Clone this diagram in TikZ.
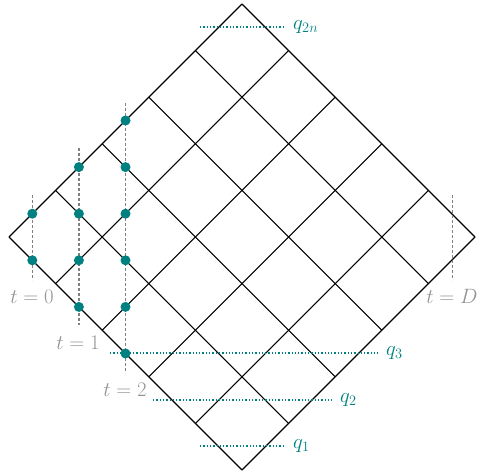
\documentclass[tikz,border=0pt]{standalone}
\begin{document}
\begin{tikzpicture}[x=1pt,y=-1pt,
  gridline/.style={line width=1.1pt, black},
  tline/.style={black!50, line width=1.2pt, dash pattern=on 3pt off 2pt},
  qline/.style={teal, line width=1.3pt, dotted},
  tdot/.style={circle, fill=teal, inner sep=0pt, minimum size=10pt},
  tlab/.style={text=black!42, inner sep=0pt, font=\fontsize{22}{26}\selectfont},
  qlab/.style={text=teal, anchor=west, inner sep=0pt, font=\fontsize{22}{26}\selectfont}]
\useasboundingbox (0,0) rectangle (481,474);
% grid
\foreach \i in {0,...,5} {
  \draw[gridline] ({9+\i*46.6},{237+\i*46.6}) -- ++(233,-233);
  \draw[gridline] ({9+\i*46.6},{237-\i*46.6}) -- ++(233,233);
}
% dashed time lines
\coordinate (a0) at (32.3,195); \coordinate (b0) at (32.3,280);
\coordinate (a1) at (78.9,148); \coordinate (b1) at (78.9,325);
\coordinate (a2) at (125.5,103); \coordinate (b2) at (125.5,373);
\coordinate (aD) at (452.7,195); \coordinate (bD) at (452.7,280);
\draw[tline] (a0) -- (b0);
\draw[tline] (a1) -- (b1);
\draw[tline] (a2) -- (b2);
\draw[tline] (aD) -- (bD);
% dotted q lines
\coordinate (qa4) at (200,27);  \coordinate (qb4) at (285,27);
\coordinate (qa3) at (110,353) ; \coordinate (qb3) at (378,353);
\coordinate (qa2) at (153,400); \coordinate (qb2) at (332,400);
\coordinate (qa1) at (200,446); \coordinate (qb1) at (285,446);
\draw[qline] (qa4) -- (qb4);
\draw[qline] (qa3) -- (qb3);
\draw[qline] (qa2) -- (qb2);
\draw[qline] (qa1) -- (qb1);
\node[qlab] (q2n) at (293,27) {$q_{2n}$};
\node[qlab] (q3) at (386,353) {$q_3$};
\node[qlab] (q2) at (340,400) {$q_2$};
\node[qlab] (q1) at (293,446) {$q_1$};
% dots
\foreach \k in {0,1,2} {
  \pgfmathtruncatemacro{\n}{2*\k+1}
  \foreach \m in {0,...,\n} {
    \node[tdot] (d-\k-\m) at ({9+(\k+0.5)*46.6},{237-(\k+0.5)*46.6+\m*46.6}) {};
  }
}
% time labels
\node[tlab] (t0) at (32,297) {$t=0$};
\node[tlab] (t1) at (78,343) {$t=1$};
\node[tlab] (t2) at (125,390) {$t=2$};
\node[tlab] (tD) at (452,296) {$t=D$};
\end{tikzpicture}
\end{document}
